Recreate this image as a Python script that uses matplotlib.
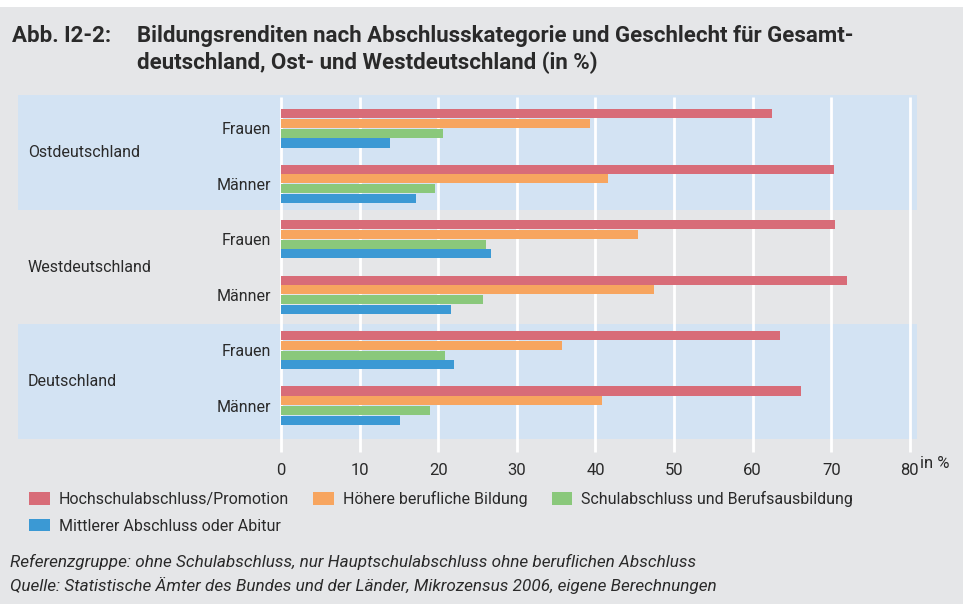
import numpy as np
import matplotlib.pyplot as plt
from matplotlib.patches import Patch

plt.rcParams['font.family'] = ['Roboto', 'DejaVu Sans']

regions = ['Ostdeutschland', 'Westdeutschland', 'Deutschland']
genders = ['Frauen', 'Männer']
series = ['Hochschulabschluss/Promotion', 'Höhere berufliche Bildung',
          'Schulabschluss und Berufsausbildung', 'Mittlerer Abschluss oder Abitur']

# rows: Ost F, Ost M, West F, West M, D F, D M
hochschule = [62.4, 70.3, 70.5, 72.0, 63.5, 66.2]
hoehere = [39.3, 41.6, 45.4, 47.4, 35.7, 40.8]
schule = [20.6, 19.6, 26.1, 25.7, 20.9, 19.0]
mittlerer = [13.9, 17.2, 26.7, 21.6, 22.0, 15.1]

xticks = [0, 10, 20, 30, 40, 50, 60, 70, 80]

colors = ['#d86c78', '#f7a55f', '#8ac87b', '#3b99d4']
bg = '#e5e6e8'
band = '#d3e3f3'
txt = '#2a2a2a'

W, H = 963, 604
fig = plt.figure(figsize=(9.63, 6.04), dpi=100)
fig.patch.set_facecolor(bg)
# white strip on top
fig.patches.append(plt.Rectangle((0, 1 - 7 / H), 1, 7 / H, transform=fig.transFigure,
                                 facecolor='white', edgecolor='none', zorder=0))

ax = fig.add_axes([18 / W, 1 - 439 / H, (917 - 18) / W, (439 - 95) / H])
ax.set_facecolor(bg)
ax.set_xlim(-33.46, 80.9)
ax.set_ylim(5.6, -0.6)
for s in ax.spines.values():
    s.set_visible(False)

bounds = [-0.6, 1.47, 3.53, 5.6]
for i in range(3):
    if i != 1:
        ax.axhspan(bounds[i], bounds[i + 1], color=band, zorder=0, lw=0)

ax.vlines(xticks, -0.56, 5.83, colors='white', lw=2, zorder=1, clip_on=False)

ypos = np.arange(6)
step = 0.176
vals = [hochschule, hoehere, schule, mittlerer]
for k, (v, c) in enumerate(zip(vals, colors)):
    ax.barh(ypos + (k - 1.5) * step, v, height=0.165, color=c, zorder=2, lw=0)

ax.set_xticks(xticks)
ax.set_xticklabels([str(t) for t in xticks], fontsize=12, color=txt)
ax.tick_params(axis='x', length=0, pad=17)
ax.set_yticks([])
fig.text(920 / W, 1 - 464 / H, 'in %', fontsize=12, color=txt, va='center', ha='left')

for i, r in enumerate(regions):
    ax.text(-32.2, (bounds[i] + bounds[i + 1]) / 2, r, fontsize=11.5, color=txt,
            va='center', ha='left')
    for j, g in enumerate(genders):
        ax.text(-1.25, 2 * i + j + 0.03, g, fontsize=11.5, color=txt, va='center', ha='right')

fig.text(12 / W, 1 - 42 / H, 'Abb. I2-2:', fontsize=16, fontweight='bold', color=txt,
         va='baseline')
fig.text(137 / W, 1 - 42 / H,
         'Bildungsrenditen nach Abschlusskategorie und Geschlecht für Gesamt-',
         fontsize=16, fontweight='bold', color=txt, va='baseline')
fig.text(137 / W, 1 - 69 / H, 'deutschland, Ost- und Westdeutschland (in %)',
         fontsize=16, fontweight='bold', color=txt, va='baseline')

handles = [Patch(facecolor=c, edgecolor='none') for c in colors]
order = [0, 3, 1, 2]
fig.legend([handles[i] for i in order], [series[i] for i in order], ncol=3,
           loc='upper left', bbox_to_anchor=(29 / W, 1 - 491 / H), frameon=False,
           fontsize=11.5, handlelength=1.31, handleheight=0.87, handletextpad=0.56,
           columnspacing=1.5, labelspacing=0.72, labelcolor=txt, borderaxespad=0,
           borderpad=0)

fig.text(10 / W, 1 - 562 / H,
         'Referenzgruppe: ohne Schulabschluss, nur Hauptschulabschluss ohne beruflichen Abschluss',
         fontsize=12.3, style='italic', color=txt, va='center')
fig.text(10 / W, 1 - 585 / H,
         'Quelle: Statistische Ämter des Bundes und der Länder, Mikrozensus 2006, eigene Berechnungen',
         fontsize=12.3, style='italic', color=txt, va='center')

fig.savefig('out.png', dpi=100, facecolor=bg)
